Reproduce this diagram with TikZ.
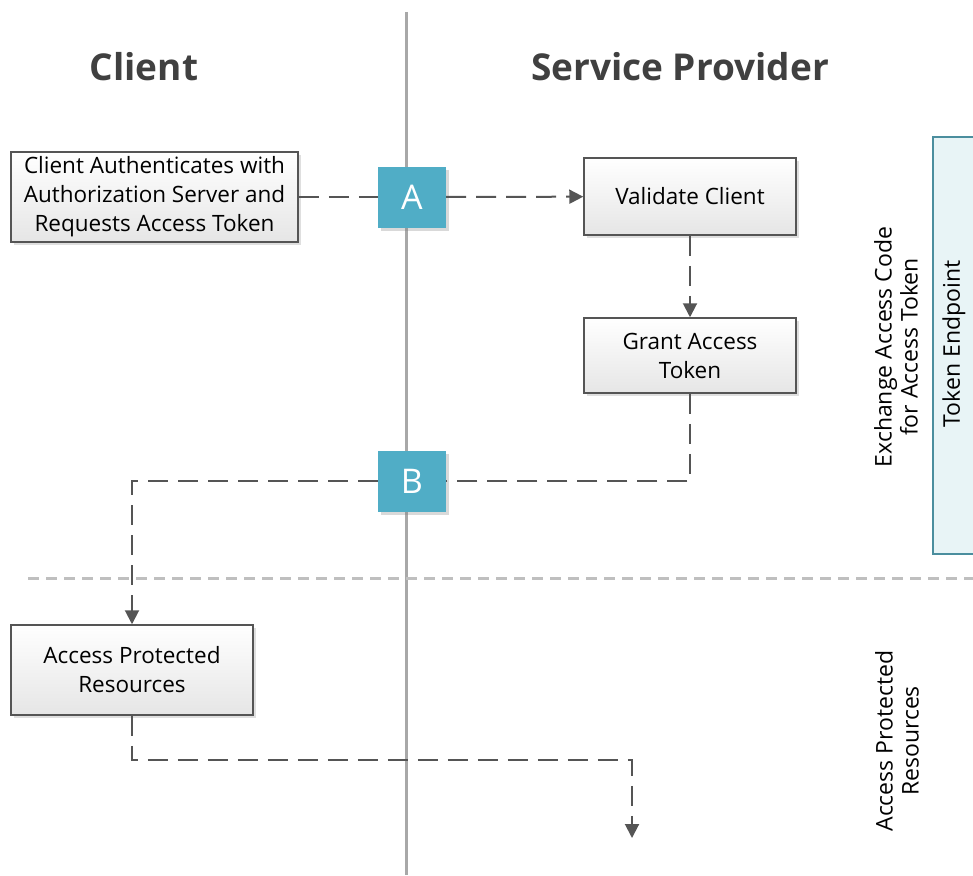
\documentclass[tikz,border=0pt]{standalone}
\usepackage{fontspec}
\setmainfont{Open Sans}
\usetikzlibrary{shadows,arrows.meta}
\definecolor{lane}{HTML}{A8A8A8}
\definecolor{flow}{HTML}{555555}
\definecolor{mark}{HTML}{50ADC6}
\definecolor{ink}{HTML}{404040}
\definecolor{endpt}{HTML}{E8F4F6}
\definecolor{endptline}{HTML}{4B8E9E}
\begin{document}
\begin{tikzpicture}[x=1pt,y=-1pt,
  stepbox/.style={draw=flow,line width=1.5pt,top color=white,bottom color=gray!20,
    drop shadow={shadow xshift=3pt,shadow yshift=-3pt,opacity=.25},
    align=center,inner sep=0pt,font=\fontsize{22.5}{29}\selectfont},
  marker/.style={fill=mark,text=white,minimum width=68pt,minimum height=61pt,inner sep=0pt,
    drop shadow={shadow xshift=3pt,shadow yshift=-3pt,opacity=.3},font=\fontsize{34}{34}\selectfont},
  flowline/.style={draw=flow,line width=2pt,dash pattern=on 20pt off 10pt,
    -{Triangle[length=14pt,width=14pt]}},
  title/.style={text=ink,font=\fontsize{37}{37}\selectfont\bfseries},
  side/.style={rotate=90,align=center,font=\fontsize{23}{26}\selectfont}]
\useasboundingbox (0,0) rectangle (973,875);
% swim lanes
\draw[lane,line width=3pt] (406,12) -- (406,875);
\draw[lightgray,line width=3pt,dash pattern=on 11pt off 7pt] (28,578) -- (973,578);
\node[title] (T0) at (144,67) {Client};
\node[title] (T1) at (680,67) {Service Provider};
% token endpoint
\draw[endptline,fill=endpt,line width=1.5pt] (933,137) rectangle (990,554);
\node[side] (E0) at (954,344) {Token Endpoint};
\node[side] (P0) at (896,347) {Exchange Access Code\\for Access Token};
\node[side] (P1) at (897,741) {Access Protected\\Resources};
% steps
\node[stepbox,minimum width=287pt,minimum height=90pt] (C1) at (154.5,197) {Client Authenticates with\\Authorization Server and\\Requests Access Token};
\node[stepbox,minimum width=212pt,minimum height=77pt] (S1) at (690,196.5) {Validate Client};
\node[stepbox,minimum width=212pt,minimum height=75pt] (S2) at (690,355.5) {Grant Access\\Token};
\node[stepbox,minimum width=242pt,minimum height=90pt] (C2) at (132,670) {Access Protected\\Resources};
\node[marker] (MA) at (412,197) {A};
\node[marker] (MB) at (412,481) {B};
\coordinate (R0) at (632,760);
\coordinate (R1) at (632,838);
% connectors
\draw[flowline,-] (C1) -- (MA);
\draw[flowline] (MA) -- (S1);
\draw[flowline] (S1) -- (S2);
\draw[flowline,-] (S2) |- (MB);
\draw[flowline] (MB) -| (C2);
\draw[flowline] (C2) |- (R0) -- (R1);
\end{tikzpicture}
\end{document}
